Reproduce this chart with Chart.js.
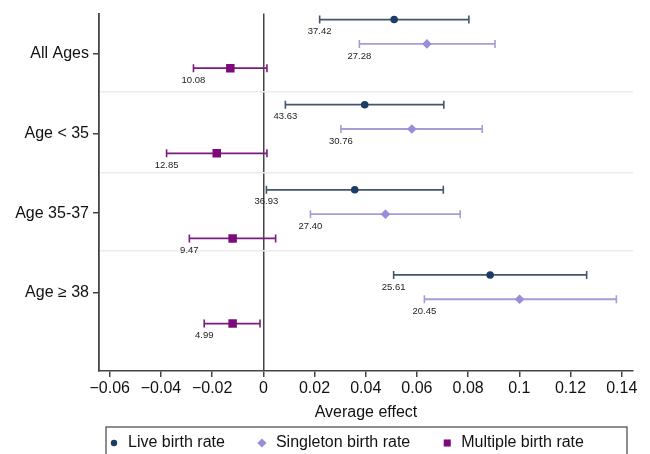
<!DOCTYPE html>
<html>
<head>
<meta charset="utf-8">
<script src="https://cdn.jsdelivr.net/npm/chart.js@4.4.1/dist/chart.umd.min.js"></script>
<style>
  html, body { margin: 0; padding: 0; background: #fff; }
  #wrap { width: 650px; height: 454px; }
</style>
</head>
<body>
<div id="wrap"><canvas id="forest"></canvas></div>
<script>
// groups and series
const groups = ['All Ages', 'Age < 35', 'Age 35-37', 'Age \u2265 38'];
const seriesNames = ['Live birth rate', 'Singleton birth rate', 'Multiple birth rate'];

// point estimates and 95% CI, one entry per group
const liveEst = [0.0511, 0.0396, 0.0357, 0.0886];
const liveLo  = [0.0220, 0.0086, 0.0012, 0.0509];
const liveHi  = [0.0803, 0.0705, 0.0703, 0.1263];
const liveRates = ['37.42', '43.63', '36.93', '25.61'];

const singleEst = [0.0639, 0.0580, 0.0477, 0.1001];
const singleLo  = [0.0375, 0.0303, 0.0184, 0.0629];
const singleHi  = [0.0905, 0.0855, 0.0769, 0.1379];
const singleRates = ['27.28', '30.76', '27.40', '20.45'];

const multiEst = [-0.0129, -0.0182, -0.0120, -0.0120];
const multiLo  = [-0.0273, -0.0378, -0.0289, -0.0231];
const multiHi  = [ 0.0014,  0.0014,  0.0048, -0.0013];
const multiRates = ['10.08', '12.85', '9.47', '4.99'];

const xTicks = [-0.06, -0.04, -0.02, 0, 0.02, 0.04, 0.06, 0.08, 0.1, 0.12, 0.14];
const xTickLabels = ['\u22120.06', '\u22120.04', '\u22120.02', '0', '0.02', '0.04', '0.06', '0.08', '0.1', '0.12', '0.14'];

// layout of rows on the vertical axis (in row units)
const groupStep = 3.5;
const labelPos = [1.39, 4.69, 7.96, 11.22];
const sepPos = [2.98, 6.29, 9.51];
const rowY = (g, s) => g * groupStep + s;

const FONT = '"Liberation Sans", Arial, Helvetica, sans-serif';

const series = [
  { name: seriesNames[0], est: liveEst, lo: liveLo, hi: liveHi, rates: liveRates,
    color: '#1b3d63', line: '#45566c', style: 'circle', radius: 3.8, legendR: 3.2 },
  { name: seriesNames[1], est: singleEst, lo: singleLo, hi: singleHi, rates: singleRates,
    color: '#9a8cd8', line: '#a59dd6', style: 'rectRot', radius: 4.8, legendR: 4.6 },
  { name: seriesNames[2], est: multiEst, lo: multiLo, hi: multiHi, rates: multiRates,
    color: '#7d0a7d', line: '#7d1a7d', style: 'rect', radius: 6, legendR: 5 }
];

const datasets = [];
series.forEach((s, si) => {
  const ci = [];
  groups.forEach((g, gi) => {
    ci.push({ x: s.lo[gi], y: rowY(gi, si) });
    ci.push({ x: s.hi[gi], y: rowY(gi, si) });
    ci.push({ x: null, y: null });
  });
  datasets.push({
    type: 'line',
    label: s.name + ' CI',
    data: ci,
    borderColor: s.line,
    borderWidth: 1.8,
    spanGaps: false,
    pointStyle: 'line',
    rotation: 90,
    pointRadius: 4,
    pointBorderColor: s.line,
    pointBorderWidth: 1.6,
    order: 2
  });
  datasets.push({
    type: 'scatter',
    label: s.name,
    data: groups.map((g, gi) => ({ x: s.est[gi], y: rowY(gi, si) })),
    pointStyle: s.style,
    pointRadius: s.radius,
    backgroundColor: s.color,
    borderColor: s.color,
    borderWidth: 0,
    order: 1
  });
});

// rate numbers under the lower CI end
const rateLabels = {
  id: 'rateLabels',
  afterDatasetsDraw(chart) {
    const { ctx, scales: { x, y } } = chart;
    ctx.save();
    ctx.font = '9.5px ' + FONT;
    ctx.fillStyle = '#222';
    ctx.textAlign = 'center';
    ctx.textBaseline = 'middle';
    series.forEach((s, si) => {
      groups.forEach((g, gi) => {
        ctx.fillText(s.rates[gi], x.getPixelForValue(s.lo[gi]), y.getPixelForValue(rowY(gi, si)) + 12);
      });
    });
    ctx.restore();
  }
};

// boxed legend at the bottom
const boxLegend = {
  id: 'boxLegend',
  afterDraw(chart) {
    const { ctx, chartArea } = chart;
    const left = chartArea.left + 7, right = chartArea.right - 6;
    const top = 427, cy = 443;
    ctx.save();
    ctx.strokeStyle = '#444';
    ctx.lineWidth = 1.2;
    ctx.strokeRect(left, top, right - left, 40);
    ctx.font = '16px ' + FONT;
    ctx.textBaseline = 'middle';
    ctx.textAlign = 'left';
    let x = left + 8;
    series.forEach((s) => {
      ctx.fillStyle = s.color;
      ctx.strokeStyle = s.color;
      Chart.helpers.drawPoint(ctx, {
        pointStyle: s.style,
        radius: s.legendR,
        rotation: 0,
        borderWidth: 0
      }, x, cy);
      ctx.fillStyle = '#111';
      ctx.fillText(s.name, x + 14, cy);
      x += 14 + ctx.measureText(s.name).width + 37;
    });
    ctx.restore();
  }
};

new Chart(document.getElementById('forest'), {
  data: { datasets },
  options: {
    responsive: true,
    maintainAspectRatio: false,
    animation: false,
    layout: { padding: { top: 12, right: 17, left: 0, bottom: 0 } },
    plugins: { legend: { display: false }, tooltip: { enabled: false } },
    scales: {
      x: {
        type: 'linear',
        min: -0.0642,
        max: 0.1444,
        afterBuildTicks: (scale) => { scale.ticks = xTicks.map(v => ({ value: v })); },
        afterFit: (scale) => { scale.height = 83; },
        ticks: {
          font: { family: FONT, size: 16 },
          color: '#111',
          padding: 2,
          maxRotation: 0,
          autoSkip: false,
          callback: (v) => xTickLabels[xTicks.indexOf(v)]
        },
        grid: {
          color: (c) => (c.tick && c.tick.value === 0 ? '#444' : 'rgba(0,0,0,0)'),
          tickColor: '#444',
          tickLength: 6,
          lineWidth: 1.5
        },
        border: { display: true, color: '#444', width: 1.5 },
        title: {
          display: true,
          text: 'Average effect',
          font: { family: FONT, size: 16 },
          color: '#111',
          padding: { top: 0, bottom: 32 }
        }
      },
      y: {
        type: 'linear',
        position: 'left',
        reverse: true,
        min: -0.245,
        max: 14.45,
        afterBuildTicks: (scale) => { scale.ticks = labelPos.map(v => ({ value: v })); },
        afterFit: (scale) => { scale.width = 99; },
        ticks: {
          font: { family: FONT, size: 16 },
          color: '#111',
          padding: 4,
          autoSkip: false,
          callback: (v) => groups[labelPos.indexOf(v)]
        },
        grid: { drawOnChartArea: false, tickLength: 6, color: '#444', lineWidth: 1.5 },
        border: { display: true, color: '#444', width: 1.8 }
      },
      ySep: {
        type: 'linear',
        position: 'right',
        reverse: true,
        min: -0.245,
        max: 14.45,
        afterBuildTicks: (scale) => { scale.ticks = sepPos.map(v => ({ value: v })); },
        afterFit: (scale) => { scale.width = 0; },
        ticks: { display: false },
        grid: { drawTicks: false, color: '#ececec', lineWidth: 1.5 },
        border: { display: false }
      }
    }
  },
  plugins: [rateLabels, boxLegend]
});
</script>
</body>
</html>
